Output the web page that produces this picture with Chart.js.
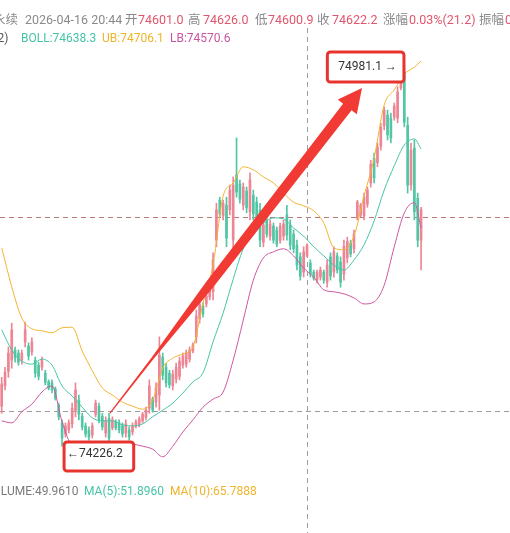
<!DOCTYPE html>
<html>
<head>
<meta charset="utf-8">
<script src="https://cdn.jsdelivr.net/npm/chart.js@4.4.0/dist/chart.umd.min.js"></script>
<style>
  html, body { margin: 0; padding: 0; background: #fff; }
  #wrap { position: relative; width: 510px; height: 533px; overflow: hidden;
          font-family: Roboto, "Noto Sans CJK SC", sans-serif; }
  #kline { position: absolute; left: 0; top: 0; }
  .t { position: absolute; white-space: nowrap; line-height: 16px; z-index: 2; }
  .l1 { top: 12px; font-size: 12.5px; }
  .l2 { top: 30px; font-size: 12px; }
  .l3 { top: 483px; font-size: 12px; }
  .g { color: #8a8a8a; }
  .v { color: #e2566d; }
</style>
</head>
<body>
<div id="wrap">
  <canvas id="kline" width="510" height="533"></canvas>

  <div class="t l1 g" style="left:-7px">永续</div>
  <div class="t l1 g" style="left:25px">2026-04-16 20:44</div>
  <div class="t l1 g" style="left:125px">开</div>
  <div class="t l1 v" style="left:138px">74601.0</div>
  <div class="t l1 g" style="left:188px">高</div>
  <div class="t l1 v" style="left:203px">74626.0</div>
  <div class="t l1 g" style="left:255px">低</div>
  <div class="t l1 v" style="left:268px">74600.9</div>
  <div class="t l1 g" style="left:317px">收</div>
  <div class="t l1 v" style="left:332px">74622.2</div>
  <div class="t l1 g" style="left:383px">涨幅</div>
  <div class="t l1 v" style="left:409px">0.03%(21.2)</div>
  <div class="t l1 g" style="left:479px">振幅</div>
  <div class="t l1 v" style="left:505px">0.03%</div>

  <div class="t l2" style="left:-51px;color:#555">BOLL(20,2)</div>
  <div class="t l2" style="left:21px;color:#47c4a6">BOLL:74638.3</div>
  <div class="t l2" style="left:102px;color:#f0b42c">UB:74706.1</div>
  <div class="t l2" style="left:170px;color:#c8559f">LB:74570.6</div>

  <div class="t l3" style="left:-15px;color:#7a7a7a">VOLUME:49.9610</div>
  <div class="t l3" style="left:84px;color:#47c4a6">MA(5):51.8960</div>
  <div class="t l3" style="left:170px;color:#f0b42c">MA(10):65.7888</div>
</div>

<script>
// 1-minute candles (price units)
const openPx = [
  74305, 74345, 74374, 74396, 74416, 74410, 74396, 74432, 74424, 74412,
  74396, 74386, 74382, 74370, 74353, 74351, 74339, 74307, 74272, 74250,
  74258, 74270, 74297, 74317, 74285, 74266, 74258, 74248, 74289, 74305,
  74285, 74252, 74281, 74262, 74274, 74272, 74266, 74252, 74258, 74254,
  74266, 74268, 74276, 74283, 74301, 74319, 74313, 74327, 74402, 74382,
  74370, 74345, 74359, 74364, 74386, 74388, 74398, 74414, 74442, 74477,
  74503, 74507, 74521, 74531, 74633, 74712, 74681, 74702, 74693, 74633,
  74762, 74744, 74702, 74730, 74689, 74722, 74708, 74693, 74629, 74673,
  74641, 74661, 74653, 74633, 74641, 74683, 74663, 74645, 74623, 74600,
  74570, 74601.0, 74588, 74570, 74554, 74560, 74570, 74550, 74600, 74570,
  74602, 74590, 74566, 74598, 74627, 74616, 74677, 74683, 74681, 74704,
  74746, 74795, 74786, 74819, 74859, 74880, 74874, 74876, 74874, 74934,
  74965, 74860, 74742, 74815, 74716, 74633
];
const highPx = [
  74362, 74382, 74422, 74469, 74422, 74416, 74416, 74471, 74430, 74440,
  74402, 74392, 74402, 74376, 74357, 74357, 74343, 74311, 74278, 74272,
  74278, 74311, 74351, 74327, 74291, 74272, 74264, 74272, 74317, 74311,
  74291, 74284, 74291, 74284, 74278, 74278, 74272, 74278, 74264, 74272,
  74278, 74284, 74293, 74303, 74357, 74323, 74351, 74442, 74410, 74390,
  74376, 74376, 74390, 74402, 74410, 74416, 74422, 74430, 74495, 74515,
  74509, 74529, 74540, 74608, 74706, 74718, 74712, 74718, 74742, 74758,
  74835, 74752, 74746, 74738, 74766, 74732, 74718, 74706, 74673, 74679,
  74673, 74667, 74659, 74667, 74673, 74702, 74673, 74653, 74633, 74608,
  74620, 74626.0, 74594, 74574, 74574, 74580, 74574, 74594, 74608, 74620,
  74608, 74600, 74633, 74639, 74633, 74653, 74712, 74706, 74726, 74738,
  74791, 74805, 74825, 74864, 74896, 74890, 74884, 74904, 74936, 74981.1,
  74975, 74876, 74825, 74831, 74726, 74698
];
const lowPx = [
  74291, 74337, 74362, 74380, 74392, 74386, 74388, 74422, 74396, 74406,
  74362, 74357, 74376, 74347, 74337, 74331, 74317, 74278, 74226.2, 74244,
  74252, 74262, 74284, 74278, 74258, 74244, 74238, 74242, 74284, 74272,
  74258, 74244, 74232, 74258, 74258, 74252, 74244, 74244, 74238, 74248,
  74262, 74264, 74272, 74278, 74291, 74293, 74303, 74297, 74357, 74343,
  74341, 74337, 74351, 74357, 74380, 74382, 74392, 74410, 74430, 74469,
  74481, 74501, 74515, 74515, 74620, 74679, 74673, 74620, 74683, 74608,
  74718, 74706, 74693, 74687, 74673, 74673, 74659, 74620, 74620, 74639,
  74633, 74627, 74620, 74627, 74633, 74633, 74614, 74608, 74574, 74554,
  74560, 74600.9, 74560, 74554, 74548, 74554, 74548, 74540, 74554, 74560,
  74568, 74540, 74554, 74588, 74600, 74608, 74673, 74679, 74673, 74698,
  74738, 74746, 74778, 74811, 74851, 74831, 74825, 74870, 74865, 74930,
  74857, 74726, 74732, 74673, 74620, 74574
];
const closePx = [
  74349, 74372, 74410, 74456, 74400, 74392, 74410, 74456, 74404, 74432,
  74370, 74364, 74396, 74352, 74341, 74337, 74321, 74284, 74242, 74266,
  74272, 74301, 74337, 74289, 74264, 74250, 74244, 74266, 74311, 74278,
  74264, 74276, 74242, 74278, 74262, 74258, 74250, 74270, 74244, 74266,
  74274, 74280, 74289, 74297, 74345, 74297, 74341, 74406, 74366, 74351,
  74347, 74368, 74382, 74394, 74404, 74410, 74416, 74426, 74483, 74507,
  74487, 74523, 74535, 74594, 74693, 74685, 74706, 74637, 74732, 74742,
  74728, 74714, 74738, 74697, 74752, 74685, 74669, 74633, 74663, 74645,
  74665, 74633, 74625, 74661, 74665, 74643, 74623, 74616, 74584, 74562,
  74610, 74622.2, 74566, 74558, 74570, 74574, 74554, 74584, 74562, 74610,
  74574, 74550, 74621, 74631, 74606, 74645, 74708, 74702, 74718, 74732,
  74783, 74756, 74817, 74856, 74890, 74841, 74835, 74898, 74926, 74969,
  74866, 74742, 74811, 74689, 74633, 74693
];

// Bollinger bands, read at every 3rd candle
const bandIdx = [0, 3, 6, 9, 12, 15, 18, 21, 24, 27, 30, 33, 36, 39, 42, 45, 48, 51, 54, 57,
  60, 63, 66, 69, 72, 75, 78, 81, 84, 87, 90, 93, 96, 99, 102, 105, 108, 111, 114, 117,
  120, 123, 125];
const ubVals = [74618, 74541, 74479, 74458, 74454, 74450, 74460, 74461, 74414, 74375,
  74341, 74327, 74313, 74305, 74299, 74317, 74380, 74400, 74408, 74422,
  74509, 74584, 74720, 74746, 74778, 74772, 74758, 74746, 74726, 74708,
  74701, 74691, 74667, 74618, 74614, 74641, 74720, 74795, 74900, 74930,
  74961, 74975, 74987];
const bollVals = [74456, 74416, 74394, 74388, 74398, 74386, 74345, 74325, 74303, 74282,
  74276, 74276, 74268, 74266, 74270, 74284, 74297, 74311, 74331, 74353,
  74371, 74432, 74489, 74556, 74616, 74649, 74667, 74677, 74675, 74657,
  74641, 74620, 74602, 74584, 74574, 74594, 74624, 74671, 74732, 74780,
  74821, 74833, 74813];
const lbVals = [74276, 74272, 74294, 74309, 74333, 74345, 74274, 74228, 74224, 74226,
  74228, 74232, 74232, 74230, 74226, 74220, 74205, 74226, 74254, 74278,
  74303, 74319, 74333, 74396, 74475, 74554, 74598, 74610, 74616, 74602,
  74578, 74560, 74535, 74531, 74527, 74519, 74507, 74511, 74544, 74620,
  74687, 74707, 74657];

// reference lines / crosshair
const crossPrice = 74678.8;
const guidePrice = 74295.5;
const crossIdx = 91;

// markers: high / low candle and the drawn arrow (index, price)
const highIdx = 119, lowIdx = 18;
const arrowFrom = [32.3, 74291.5];
const arrowTo = [107.4, 74933.7];

const SLOTS = 152;
const yMin = 74054.4, yMax = 75107.6;

const UP = '#ee8594', DOWN = '#52c6a4';

const labels = [];
for (let i = 0; i < SLOTS; i++) labels.push(String(i));

const wicks = labels.map((_, i) => i < highPx.length ? [lowPx[i], highPx[i]] : null);
const bodies = labels.map((_, i) => i < openPx.length ? [openPx[i], closePx[i]] : null);
const colors = labels.map((_, i) => i < openPx.length && closePx[i] >= openPx[i] ? UP : DOWN);

function bandSeries(vals) {
  const out = labels.map(() => null);
  bandIdx.forEach((idx, k) => { out[idx] = vals[k]; });
  return out;
}

function lineSet(vals, color) {
  return {
    type: 'line',
    data: bandSeries(vals),
    borderColor: color,
    borderWidth: 1,
    pointRadius: 0,
    spanGaps: true,
    cubicInterpolationMode: 'monotone',
    order: 0
  };
}

const overlay = {
  id: 'overlay',
  beforeDatasetsDraw(chart) {
    const { ctx, chartArea: a, scales: { x, y } } = chart;
    ctx.save();
    ctx.lineWidth = 1;
    ctx.setLineDash([5, 4]);

    ctx.strokeStyle = '#b9787c';
    let py = Math.round(y.getPixelForValue(crossPrice)) + 0.5;
    ctx.beginPath(); ctx.moveTo(a.left, py); ctx.lineTo(a.right, py); ctx.stroke();

    ctx.strokeStyle = '#9c9c9c';
    py = Math.round(y.getPixelForValue(guidePrice)) + 0.5;
    ctx.beginPath(); ctx.moveTo(a.left, py); ctx.lineTo(a.right, py); ctx.stroke();

    const px = Math.round(x.getPixelForValue(crossIdx)) + 0.5;
    ctx.beginPath(); ctx.moveTo(px, 28); ctx.lineTo(px, a.bottom); ctx.stroke();
    ctx.restore();
  },
  afterDatasetsDraw(chart) {
    const { ctx, scales: { x, y } } = chart;
    ctx.save();

    // big red arrow
    const t = { x: x.getPixelForValue(arrowFrom[0]), y: y.getPixelForValue(arrowFrom[1]) };
    const p = { x: x.getPixelForValue(arrowTo[0]), y: y.getPixelForValue(arrowTo[1]) };
    const dx = p.x - t.x, dy = p.y - t.y, len = Math.hypot(dx, dy);
    const ux = dx / len, uy = dy / len, nx = -uy, ny = ux;
    const headLen = 24, headHalf = 12, shaft = len - headLen;
    const bx = p.x - ux * headLen, by = p.y - uy * headLen;
    const prof = [[0, 0.6], [0.18, 1.2], [0.42, 4.4], [1, 5.4]];
    ctx.fillStyle = '#f23a34';
    ctx.beginPath();
    prof.forEach(([f, w]) => ctx.lineTo(t.x + ux * shaft * f + nx * w, t.y + uy * shaft * f + ny * w));
    ctx.lineTo(bx + nx * headHalf, by + ny * headHalf);
    ctx.lineTo(p.x, p.y);
    ctx.lineTo(bx - nx * headHalf, by - ny * headHalf);
    prof.slice().reverse().forEach(([f, w]) => ctx.lineTo(t.x + ux * shaft * f - nx * w, t.y + uy * shaft * f - ny * w));
    ctx.closePath();
    ctx.fill();

    // high / low price labels with red boxes
    ctx.font = '12px Roboto, sans-serif';
    ctx.textBaseline = 'middle';
    ctx.strokeStyle = '#e8342f';
    ctx.lineWidth = 3;

    const hx = x.getPixelForValue(highIdx), hy = y.getPixelForValue(highPx[highIdx]) + 3;
    const hText = highPx[highIdx].toFixed(1) + ' →';
    const hw = ctx.measureText(hText).width;
    ctx.fillStyle = '#fff';
    ctx.beginPath(); ctx.roundRect(hx - 4 - hw - 11, hy - 15, hw + 18, 30, 3); ctx.fill(); ctx.stroke();
    ctx.fillStyle = '#333';
    ctx.textAlign = 'right';
    ctx.fillText(hText, hx - 4, hy);

    const lx = x.getPixelForValue(lowIdx), ly = y.getPixelForValue(lowPx[lowIdx]) + 8;
    const lText = '←' + lowPx[lowIdx].toFixed(1);
    const lw = ctx.measureText(lText).width;
    ctx.fillStyle = '#fff';
    ctx.beginPath(); ctx.roundRect(lx + 2, ly - 12, lw + 14, 29, 3); ctx.fill(); ctx.stroke();
    ctx.fillStyle = '#333';
    ctx.textAlign = 'left';
    ctx.fillText(lText, lx + 5, ly);

    ctx.restore();
  }
};

new Chart(document.getElementById('kline'), {
  type: 'bar',
  data: {
    labels: labels,
    datasets: [
      lineSet(ubVals, '#f2b531'),
      lineSet(bollVals, '#47c4a6'),
      lineSet(lbVals, '#cf56a0'),
      {
        data: bodies,
        backgroundColor: colors,
        barThickness: 2,
        minBarLength: 1,
        grouped: false,
        borderSkipped: false,
        order: 1
      },
      {
        data: wicks,
        backgroundColor: colors,
        barThickness: 1,
        grouped: false,
        borderSkipped: false,
        order: 2
      }
    ]
  },
  options: {
    responsive: false,
    animation: false,
    layout: { padding: 0 },
    plugins: { legend: { display: false }, tooltip: { enabled: false } },
    scales: {
      x: { display: false, offset: true },
      y: { display: false, min: yMin, max: yMax }
    }
  },
  plugins: [overlay]
});
</script>
</body>
</html>
